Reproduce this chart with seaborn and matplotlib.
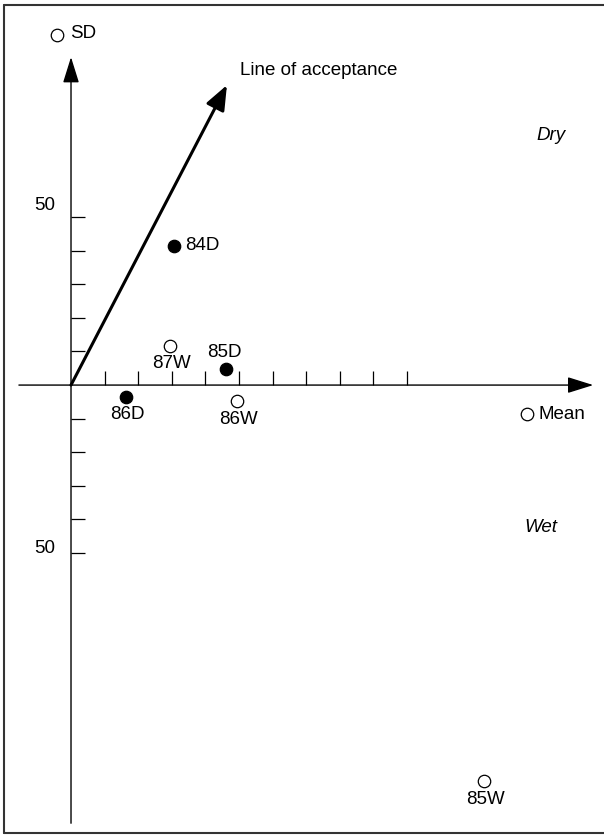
import matplotlib
matplotlib.use("Agg")
import matplotlib.pyplot as plt
from matplotlib.lines import Line2D
import seaborn as sns
import pandas as pd

sns.set_theme(style="white")
plt.rcParams["font.family"] = ["Liberation Sans", "DejaVu Sans"]
plt.rcParams["text.color"] = "black"

# Seasonal rainfall statistics (mean on x, signed SD on y)
labels = ["84D", "85D", "86D", "87W", "86W", "85W"]
mean_vals = [30.7, 46.1, 16.4, 29.5, 49.5, 122.9]
sd_vals = [41.5, 4.8, -3.5, 11.7, -4.8, -117.9]
season = ["Dry", "Dry", "Dry", "Wet", "Wet", "Wet"]
label_side = ["right", "above", "below", "below", "below", "below"]

# Line of acceptance: SD / mean ratio and extent along the mean axis
accept_slope = 1.924
accept_end_mean = 46.4

tick_vals = [10, 20, 30, 40, 50, 60, 70, 80, 90, 100]
sd_ticks = [-50, -40, -30, -20, -10, 10, 20, 30, 40, 50]

df = pd.DataFrame({"label": labels, "mean": mean_vals, "sd": sd_vals,
                   "season": season, "side": label_side})

FS = 13.5

fig = plt.figure(figsize=(6.04, 8.35), dpi=100)
ax = fig.add_axes([0, 0, 1, 1])
ax.set_facecolor("white")

# Points: dry seasons filled, wet seasons open
dry = df[df["season"] == "Dry"]
wet = df[df["season"] == "Wet"]
sns.scatterplot(data=dry, x="mean", y="sd", ax=ax, s=80, color="black",
                edgecolor="black", linewidth=0.9, zorder=5, legend=False)
sns.scatterplot(data=wet, x="mean", y="sd", ax=ax, s=80, facecolor="white",
                edgecolor="black", linewidth=0.9, zorder=5, legend=False)

ax.set_xlim(-21.13, 158.6)
ax.set_ylim(-133.9, 114.6)
ax.set_xlabel("")
ax.set_ylabel("")

# Axes crossing at the origin
for side in ("top", "right", "left", "bottom"):
    ax.spines[side].set_visible(False)
ax.spines["left"].set_position(("data", 0))
ax.spines["bottom"].set_position(("data", 0))
ax.set_xticks(tick_vals)
ax.set_xticklabels([])
ax.set_yticks(sd_ticks)
ax.set_yticklabels([])
ax.tick_params(axis="both", direction="in", length=10, width=0.9, color="black",
               bottom=True, left=True)

arrow_kw = dict(arrowstyle="-|>,head_length=0.8,head_width=0.25", mutation_scale=20,
                color="black", lw=1.0, shrinkA=0, shrinkB=0)
ax.annotate("", xy=(155.4, 0), xytext=(-15.5, 0), arrowprops=arrow_kw)
ax.annotate("", xy=(0, 97.6), xytext=(0, -130.4), arrowprops=arrow_kw)

# Line of acceptance
accept_kw = dict(arrowstyle="-|>,head_length=0.75,head_width=0.3", mutation_scale=20,
                 color="black", lw=2.2, shrinkA=0, shrinkB=0)
ax.annotate("", xy=(accept_end_mean, accept_slope * accept_end_mean), xytext=(0, 0),
            arrowprops=accept_kw)
ax.text(50.2, 93.5, "Line of acceptance", fontsize=FS, ha="left", va="center")

offsets = {"right": ((8, 0), "left", "center"),
           "above": ((-1, 12), "center", "center"),
           "below": ((1, -13), "center", "center")}
for _, r in df.iterrows():
    off, ha, va = offsets[r["side"]]
    ax.annotate(r["label"], xy=(r["mean"], r["sd"]), xytext=off,
                textcoords="offset points", ha=ha, va=va, fontsize=FS)

# "50" on both halves of the SD axis
ax.text(-4.8, 53.5, "50", fontsize=FS, ha="right", va="center")
ax.text(-4.8, -48.5, "50", fontsize=FS, ha="right", va="center")

# Axis names with their open-circle keys
ax.plot([0.0944], [0.958], marker="o", ms=9, mfc="white", mec="black", mew=0.9,
        transform=ax.transAxes, clip_on=False, zorder=6)
ax.text(0.116, 0.960, "SD", fontsize=FS, ha="left", va="center", transform=ax.transAxes)
ax.plot([0.8725], [0.504], marker="o", ms=9, mfc="white", mec="black", mew=0.9,
        transform=ax.transAxes, clip_on=False, zorder=6)
ax.text(0.891, 0.503, "Mean", fontsize=FS, ha="left", va="center", transform=ax.transAxes)

ax.text(0.913, 0.838, "Dry", fontsize=FS, style="italic", ha="center", va="center",
        transform=ax.transAxes)
ax.text(0.895, 0.368, "Wet", fontsize=FS, style="italic", ha="center", va="center",
        transform=ax.transAxes)

# Box around the figure (open on the right)
frame_kw = dict(color="#333333", lw=1.5, transform=fig.transFigure)
fig.add_artist(Line2D([4 / 604, 4 / 604], [1 - 5 / 835, 1 - 833 / 835], **frame_kw))
fig.add_artist(Line2D([4 / 604, 1.0], [1 - 5 / 835, 1 - 5 / 835], **frame_kw))
fig.add_artist(Line2D([4 / 604, 1.0], [1 - 833 / 835, 1 - 833 / 835], **frame_kw))

fig.savefig("out.png", dpi=100)
